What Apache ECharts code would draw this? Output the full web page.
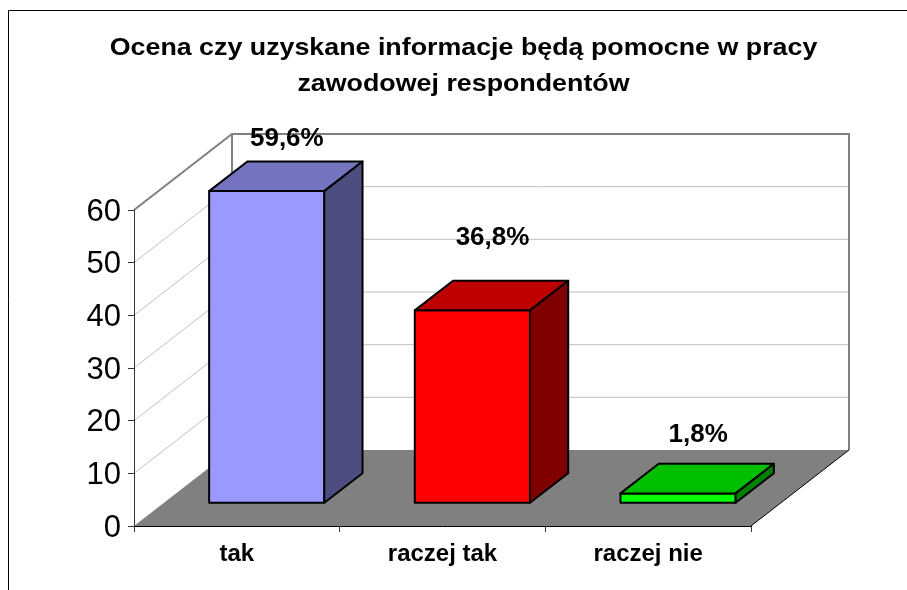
<!DOCTYPE html>
<html>
<head>
<meta charset="utf-8">
<style>
    html, body { margin: 0; padding: 0; background: #fff; }
    #dataShow { width: 907px; height: 590px; }
</style>
<script src="https://cdn.jsdelivr.net/npm/echarts@6/dist/echarts.min.js"></script>
</head>
<body>
<div id="dataShow"></div>
<script>
const categories = ['tak', 'raczej tak', 'raczej nie'];
const percents = [59.6, 36.8, 1.8];
const valueTicks = [0, 10, 20, 30, 40, 50, 60];
const chartTitle = 'Ocena czy uzyskane informacje będą pomocne w pracy\nzawodowej respondentów';

// excel style 3d look: front face, top (darker), side (darkest)
const barShades = [
    ['#9999FF', '#7373BF', '#4D4D80'],
    ['#FF0000', '#BF0000', '#800000'],
    ['#00FF00', '#00BF00', '#008000'],
];
// the labels were dragged by hand in the original, so each one has its own lift
const labelLift = [23, 43, 29];

const FONT = '"Liberation Sans", Arial, sans-serif';
const DEPTH_X = 98;
const DEPTH_Y = -76;
const BAR_RATIO = 0.56;
const BAR_DEPTH = 0.39;
const BAR_SHRINK = 0.993; // bars stand a bit short of the wall scale in the original

function poly(points, fill, stroke, lineWidth) {
    return {
        type: 'polygon',
        shape: { points: points },
        style: { fill: fill, stroke: stroke || null, lineWidth: lineWidth || 0, lineJoin: 'round' },
    };
}

function line(points, stroke, lineWidth) {
    return {
        type: 'polyline',
        shape: { points: points },
        style: { fill: null, stroke: stroke, lineWidth: lineWidth },
    };
}

function renderWalls(params, api) {
    const origin = api.coord([0, 0]);
    const cellW = api.size([1, 0])[0];
    const x0 = origin[0] - cellW / 2;
    const x1 = x0 + cellW * categories.length;
    const y0 = origin[1];
    const top = api.coord([0, valueTicks[valueTicks.length - 1]])[1];
    const children = [];

    valueTicks.slice(1, -1).forEach((tick) => {
        const y = api.coord([0, tick])[1];
        children.push(line([[x0, y], [x0 + DEPTH_X, y + DEPTH_Y], [x1 + DEPTH_X, y + DEPTH_Y]], '#C0C0C0', 1));
    });
    // wall outline
    children.push(line([
        [x0, top],
        [x0 + DEPTH_X, top + DEPTH_Y],
        [x1 + DEPTH_X, top + DEPTH_Y],
        [x1 + DEPTH_X, y0 + DEPTH_Y],
    ], '#808080', 2));
    children.push(line([[x0 + DEPTH_X, top + DEPTH_Y], [x0 + DEPTH_X, y0 + DEPTH_Y]], '#808080', 2));
    // floor
    children.push(poly([
        [x0, y0],
        [x0 + DEPTH_X, y0 + DEPTH_Y],
        [x1 + DEPTH_X, y0 + DEPTH_Y],
        [x1, y0],
    ], '#808080'));
    children.push(line([[x1, y0], [x1 + DEPTH_X, y0 + DEPTH_Y]], '#000', 1));
    return { type: 'group', children: children };
}

function renderBar(params, api) {
    const i = api.value(0);
    const value = api.value(1);
    const base = api.coord([i, 0]);
    const head = api.coord([i, value]);
    const cellW = api.size([1, 0])[0];
    const barW = cellW * BAR_RATIO;
    // bar sits in the middle of the floor depth
    const dx = DEPTH_X * BAR_DEPTH;
    const dy = DEPTH_Y * BAR_DEPTH;
    const ox = DEPTH_X * (1 - BAR_DEPTH) / 2;
    const oy = DEPTH_Y * (1 - BAR_DEPTH) / 2;
    const l = base[0] - barW / 2 + ox;
    const r = l + barW;
    const b = base[1] + oy;
    const t = b - (base[1] - head[1]) * BAR_SHRINK;
    const shade = barShades[params.dataIndex];
    const border = '#000';

    return {
        type: 'group',
        children: [
            poly([[l, t], [r, t], [r, b], [l, b]], shade[0], border, 2),
            poly([[l, t], [l + dx, t + dy], [r + dx, t + dy], [r, t]], shade[1], border, 2),
            poly([[r, t], [r + dx, t + dy], [r + dx, b + dy], [r, b]], shade[2], border, 2),
            {
                type: 'text',
                style: {
                    text: String(value).replace('.', ',') + '%',
                    x: (l + r) / 2 + dx / 2 + 1,
                    y: t + dy - labelLift[params.dataIndex],
                    align: 'center',
                    verticalAlign: 'middle',
                    font: 'bold 26px ' + FONT,
                    fill: '#000',
                },
            },
        ],
    };
}

const chart = echarts.init(document.getElementById('dataShow'));
chart.setOption({
    animation: false,
    backgroundColor: '#fff',
    graphic: [
        {
            type: 'rect',
            shape: { x: 8.5, y: 10.5, width: 1200, height: 900 },
            style: { fill: null, stroke: '#000', lineWidth: 1 },
            silent: true,
        },
        {
            // title letters are spread wider than the font, stretched to the same width here
            type: 'text',
            x: 463.5,
            y: 30,
            scaleX: 1.094,
            silent: true,
            style: {
                text: chartTitle,
                align: 'center',
                font: 'bold 24.5px ' + FONT,
                lineHeight: 36,
                fill: '#000',
            },
        },
    ],
    grid: { left: 134, right: 156, top: 210, bottom: 64 },
    xAxis: {
        type: 'category',
        data: categories,
        z: 10,
        axisLine: { lineStyle: { color: '#000', width: 1 } },
        axisTick: { show: true, length: 6, lineStyle: { color: '#333' } },
        axisLabel: { fontFamily: FONT, fontSize: 24, fontWeight: 'bold', color: '#000', margin: 16, interval: 0 },
    },
    yAxis: {
        type: 'value',
        min: 0,
        max: 60,
        interval: 10,
        z: 10,
        splitLine: { show: false },
        axisLine: { show: true, lineStyle: { color: '#333', width: 1 } },
        axisTick: { show: true, length: 6, lineStyle: { color: '#333' } },
        // top align with a tiny line box drops the digits 2px below the tick, as in the original
        axisLabel: { fontFamily: FONT, fontSize: 31, color: '#000', margin: 13, verticalAlign: 'top', lineHeight: 4 },
    },
    series: [
        {
            type: 'custom',
            renderItem: renderWalls,
            data: [[0, 0]],
            encode: { x: 0, y: 1 },
            silent: true,
            z: 1,
        },
        {
            type: 'custom',
            renderItem: renderBar,
            data: percents.map((v, i) => [i, v]),
            encode: { x: 0, y: 1 },
            silent: true,
            z: 2,
        },
    ],
});
</script>
</body>
</html>
